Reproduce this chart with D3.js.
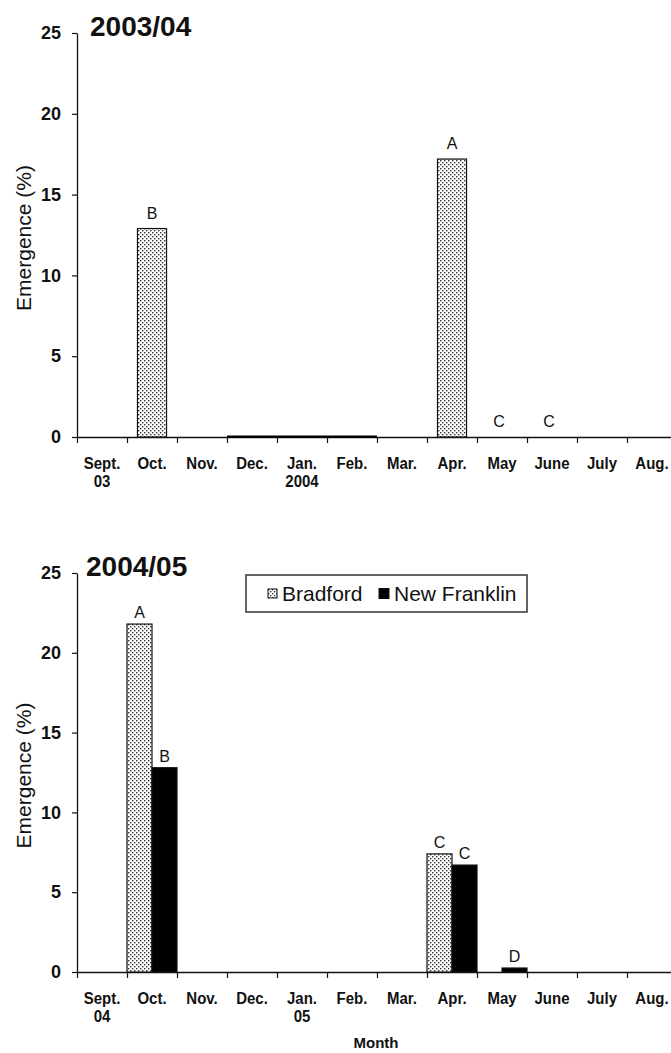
<!DOCTYPE html>
<html>
<head>
<meta charset="utf-8">
<script src="https://cdn.jsdelivr.net/npm/d3@7"></script>
<style>
  body { margin: 0; background: #fff; }
  text { font-family: Arial, "Liberation Sans", Helvetica, sans-serif; fill: #111; }
</style>
</head>
<body>
<div id="chart"></div>
<script>
// months on the x axis (shared by both panels)
const months = ["Sept.", "Oct.", "Nov.", "Dec.", "Jan.", "Feb.", "Mar.", "Apr.", "May", "June", "July", "Aug."];
const yTicks = [0, 5, 10, 15, 20, 25];

// 2003/04 - Bradford only
const sub0304 = { "Sept.": "03", "Jan.": "2004" };
const bradford0304 = [0, 12.9, 0, 0, 0, 0, 0, 17.2, 0, 0, 0, 0];
const letters0304 = ["", "B", "", "", "", "", "", "A", "C", "C", "", ""];
const trace0304 = ["Dec.", "Jan.", "Feb."]; // months with trace emergence (drawn on baseline)

// 2004/05 - Bradford and New Franklin
const sub0405 = { "Sept.": "04", "Jan.": "05" };
const series = ["Bradford", "New Franklin"];
const bradford0405 = [0, 21.8, 0, 0, 0, 0, 0, 7.4, 0, 0, 0, 0];
const newFranklin0405 = [0, 12.8, 0, 0, 0, 0, 0, 6.7, 0.25, 0, 0, 0];
const lettersBrad0405 = ["", "A", "", "", "", "", "", "C", "", "", "", ""];
const lettersNF0405 = ["", "B", "", "", "", "", "", "C", "D", "", "", ""];

const width = 671, height = 1053;
const svg = d3.select("#chart").append("svg").attr("width", width).attr("height", height);

// stipple pattern for Bradford
const defs = svg.append("defs");
const pat = defs.append("pattern").attr("id", "dots")
  .attr("patternUnits", "userSpaceOnUse").attr("width", 4).attr("height", 4);
pat.append("rect").attr("width", 4).attr("height", 4).attr("fill", "#fff");
pat.append("rect").attr("x", 0).attr("y", 0).attr("width", 1.4).attr("height", 1.4).attr("fill", "#333");
pat.append("rect").attr("x", 2).attr("y", 2).attr("width", 1.4).attr("height", 1.4).attr("fill", "#333");

const fills = { "Bradford": "url(#dots)", "New Franklin": "#000" };

const x = d3.scaleBand().domain(months).range([77, 677]).padding(0);
const xEdge = d3.scaleLinear().domain([0, months.length]).range([77, 677]);

// bold month label, slightly tall like the original
function monthText(sel, dy) {
  sel.attr("transform", d => `translate(${x(d) + x.bandwidth() / 2},${dy}) scale(1,1.15)`)
    .attr("text-anchor", "middle")
    .style("font-size", "15px").style("font-weight", "bold");
}

function drawPanel(p) {
  const y = d3.scaleLinear().domain([0, 25]).range([p.bottom, p.top]);
  const g = svg.append("g");

  // y axis
  const gy = g.append("g").attr("transform", "translate(77,0)")
    .call(d3.axisLeft(y).tickValues(yTicks).tickSize(5).tickSizeOuter(0).tickPadding(11));
  gy.select(".domain").attr("stroke", "#111").attr("stroke-width", 1.3);
  gy.selectAll(".tick line").attr("stroke", "#111").attr("stroke-width", 1.2);
  gy.selectAll(".tick text").style("font-size", "18px").style("font-weight", "bold")
    .style("font-family", "Arial, 'Liberation Sans', sans-serif").attr("fill", "#111");

  // x axis: ticks on month boundaries
  const gx = g.append("g").attr("transform", `translate(0,${p.bottom})`)
    .call(d3.axisBottom(xEdge).tickValues(d3.range(0, months.length + 1)).tickSize(6).tickSizeOuter(0).tickFormat(""));
  gx.select(".domain").attr("stroke", "#111").attr("stroke-width", 1.3);
  gx.selectAll(".tick line").attr("stroke", "#111").attr("stroke-width", 1.2);

  // month labels
  g.append("g").selectAll("text").data(months).enter().append("text")
    .call(monthText, p.bottom + 32)
    .text(d => d);
  g.append("g").selectAll("text").data(Object.keys(p.sub)).enter().append("text")
    .call(monthText, p.bottom + 50)
    .text(d => p.sub[d]);

  // y label
  g.append("text")
    .attr("transform", `translate(31,${(p.top + p.bottom) / 2 + 3}) rotate(-90)`)
    .attr("text-anchor", "middle")
    .style("font-size", "21px")
    .text("Emergence (%)");

  // title
  g.append("text").attr("x", p.titleX).attr("y", p.top + 3)
    .style("font-size", "28px").style("font-weight", "bold")
    .text(p.title);

  return { g, y };
}

// ---- 2003/04 ----
const panelA = drawPanel({ top: 33, bottom: 437, sub: sub0304, title: "2003/04", titleX: 90 });
const x1a = d3.scaleBand().domain(["Bradford"]).range([0, x.bandwidth()]).paddingInner(0).paddingOuter(0.36);
const rowsA = months.map((m, i) => ({ m, v: bradford0304[i], l: letters0304[i] }));

panelA.g.append("g").selectAll("rect").data(rowsA.filter(d => d.v > 0)).enter().append("rect")
  .attr("x", d => x(d.m) + x1a("Bradford"))
  .attr("y", d => panelA.y(d.v))
  .attr("width", x1a.bandwidth())
  .attr("height", d => panelA.y(0) - panelA.y(d.v))
  .attr("fill", fills["Bradford"])
  .attr("stroke", "#111").attr("stroke-width", 1.2);

panelA.g.append("g").selectAll("line").data(trace0304).enter().append("line")
  .attr("x1", d => x(d)).attr("x2", d => x(d) + x.bandwidth())
  .attr("y1", panelA.y(0) - 0.5).attr("y2", panelA.y(0) - 0.5)
  .attr("stroke", "#000").attr("stroke-width", 2.2);

panelA.g.append("g").selectAll("text").data(rowsA.filter(d => d.l)).enter().append("text")
  .attr("x", d => x(d.m) + (d.v > 0 ? x1a("Bradford") + x1a.bandwidth() / 2 : x.bandwidth() / 2 - 3))
  .attr("y", d => panelA.y(d.v) - 10)
  .attr("text-anchor", "middle")
  .style("font-size", "16px")
  .text(d => d.l);

// ---- 2004/05 ----
const panelB = drawPanel({ top: 573, bottom: 972, sub: sub0405, title: "2004/05", titleX: 86 });
const x1b = d3.scaleBand().domain(series).range([0, x.bandwidth()]).padding(0);
const rowsB = [];
months.forEach((m, i) => {
  rowsB.push({ m, s: "Bradford", v: bradford0405[i], l: lettersBrad0405[i] });
  rowsB.push({ m, s: "New Franklin", v: newFranklin0405[i], l: lettersNF0405[i] });
});

panelB.g.append("g").selectAll("rect").data(rowsB.filter(d => d.v > 0)).enter().append("rect")
  .attr("x", d => x(d.m) + x1b(d.s))
  .attr("y", d => panelB.y(d.v))
  .attr("width", x1b.bandwidth())
  .attr("height", d => panelB.y(0) - panelB.y(d.v))
  .attr("fill", d => fills[d.s])
  .attr("stroke", "#111").attr("stroke-width", 1.2);

panelB.g.append("g").selectAll("text").data(rowsB.filter(d => d.l)).enter().append("text")
  .attr("x", d => x(d.m) + x1b(d.s) + x1b.bandwidth() / 2)
  .attr("y", d => panelB.y(d.v) - 6)
  .attr("text-anchor", "middle")
  .style("font-size", "16px")
  .text(d => d.l);

// x axis title
svg.append("text").attr("x", 376).attr("y", 1048)
  .attr("text-anchor", "middle")
  .style("font-size", "15px").style("font-weight", "bold")
  .text("Month");

// legend
const lg = svg.append("g").attr("transform", "translate(246,575)");
lg.append("rect").attr("width", 281).attr("height", 37)
  .attr("fill", "#fff").attr("stroke", "#333").attr("stroke-width", 1.5);
const legItems = [{ s: "Bradford", x: 22, w: 9 }, { s: "New Franklin", x: 133, w: 10 }];
legItems.forEach(d => {
  lg.append("rect").attr("x", d.x).attr("y", 18.5 - d.w / 2).attr("width", d.w).attr("height", d.w)
    .attr("fill", fills[d.s]).attr("stroke", "#111").attr("stroke-width", 1);
  lg.append("text").attr("x", d.x + d.w + 5).attr("y", 26)
    .style("font-size", "21px")
    .text(d.s);
});
</script>
</body>
</html>
